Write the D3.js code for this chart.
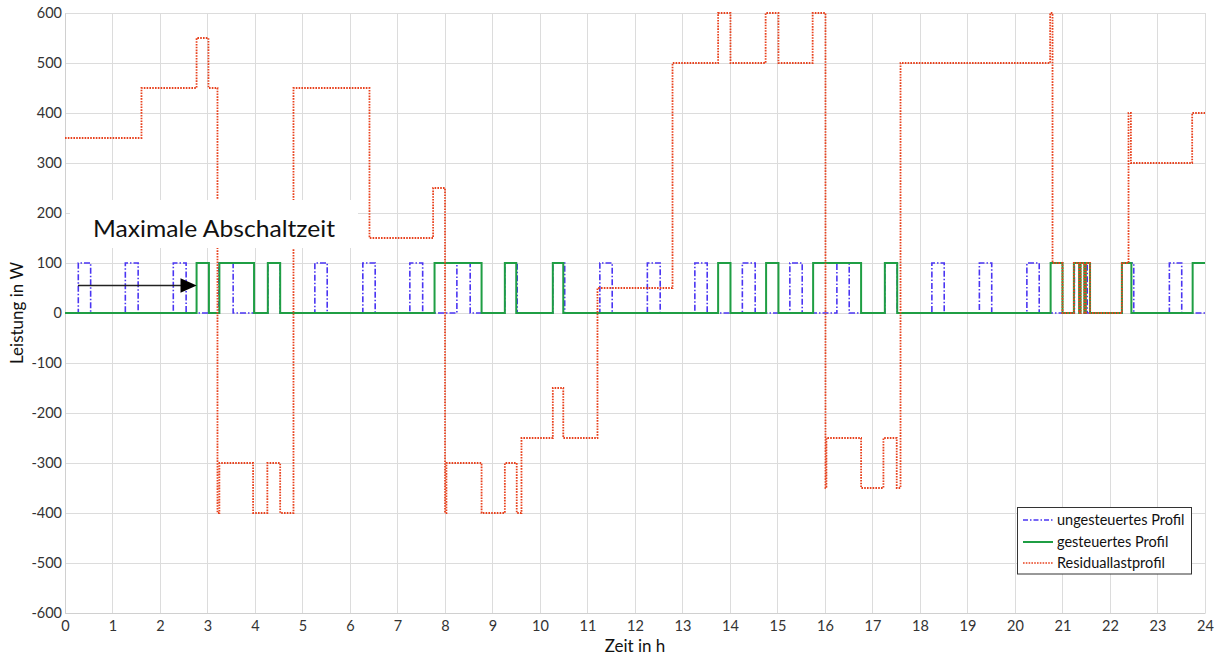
<!DOCTYPE html>
<html>
<head>
<meta charset="utf-8">
<script src="https://cdn.jsdelivr.net/npm/d3@7"></script>
<style>
  html, body { margin: 0; padding: 0; background: #fff; }
  svg { display: block; font-family: Lato, "Open Sans", sans-serif; }
</style>
</head>
<body>
<svg id="chart" width="1218" height="657"></svg>
<script>
// ---- data ----
const xTicks = [0,1,2,3,4,5,6,7,8,9,10,11,12,13,14,15,16,17,18,19,20,21,22,23,24];
const yTicks = [-600,-500,-400,-300,-200,-100,0,100,200,300,400,500,600];

// ungesteuertes Profil: on-pulses of 100 W [start, end] in h
const ungesteuertPulses = [
  [0.28,0.54],[1.27,1.54],[2.28,2.55],[3.24,3.54],[4.27,4.53],[5.26,5.52],
  [6.27,6.53],[7.26,7.53],[8.25,8.53],[9.26,9.52],[10.27,10.52],[11.26,11.52],
  [12.26,12.53],[13.26,13.52],[14.26,14.53],[15.26,15.52],[16.25,16.51],[17.26,17.52],
  [18.25,18.51],[19.25,19.51],[20.25,20.51],[21.25,21.52],[22.25,22.5],[23.25,23.51]
];
const ungesteuertLevel = 100;

// gesteuertes Profil: on-pulses of 100 W [start, end] in h
const gesteuertPulses = [
  [2.77,3.03],[3.25,3.98],[4.27,4.53],[7.78,8.77],[9.26,9.50],[10.27,10.49],
  [13.75,14.01],[14.76,15.02],[15.75,16.76],[17.26,17.52],[20.75,21.0],
  [21.24,21.35],[21.38,21.46],[21.49,21.58],[22.25,22.45],[23.74,24]
];
const gesteuertLevel = 100;

// Residuallastprofil: step breakpoints [time h, value W]
const residualTimes = [0,1.61,2.77,3.02,3.21,3.25,3.96,4.26,4.53,4.81,6.41,7.75,8.0,8.03,8.77,9.26,9.51,9.61,
  10.27,10.49,11.21,12.79,13.75,14.01,14.75,15.02,15.74,16.01,16.03,16.76,17.23,17.51,17.59,
  20.74,20.79,21.0,21.24,21.35,21.38,21.46,21.49,21.58,22.25,22.39,22.44,23.73,24];
const residualValues = [350,450,550,450,-400,-300,-400,-300,-400,450,150,250,-400,-300,-400,-300,-400,-250,
  -150,-250,50,500,600,500,600,500,600,-350,-250,-350,-250,-350,500,
  600,100,0,100,0,100,0,100,0,100,400,300,400,400];

const seriesNames = ["ungesteuertes Profil","gesteuertes Profil","Residuallastprofil"];
const xLabel = "Zeit in h";
const yLabel = "Leistung in W";
const annotationText = "Maximale Abschaltzeit";

// ---- helpers ----
function pulsesToSteps(pulses, level) {
  const pts = [[0,0]];
  pulses.forEach(([s,e]) => { pts.push([s,level]); pts.push([e,0]); });
  if (pts[pts.length-1][0] < 24) pts.push([24, pts[pts.length-1][1]]);
  else pts[pts.length-1] = [24, level];
  return pts;
}

const svg = d3.select("#chart");
const x = d3.scaleLinear().domain([0,24]).range([65,1205]);
const y = d3.scaleLinear().domain([-600,600]).range([613,13]);

// grid
const grid = svg.append("g");
grid.selectAll("line.v").data(xTicks).join("line")
  .attr("x1", d => x(d)).attr("x2", d => x(d))
  .attr("y1", y(600)).attr("y2", y(-600))
  .attr("stroke", "#dcdcdc").attr("stroke-width", 1).attr("shape-rendering","crispEdges");
grid.selectAll("line.h").data(yTicks).join("line")
  .attr("x1", x(0)).attr("x2", x(24))
  .attr("y1", d => y(d)).attr("y2", d => y(d))
  .attr("stroke", "#dcdcdc").attr("stroke-width", 1).attr("shape-rendering","crispEdges");

// axes
const fmt = d => String(d);
const xAxis = d3.axisBottom(x).tickValues(xTicks).tickSize(0).tickPadding(8).tickFormat(fmt);
const gx = svg.append("g").attr("transform", `translate(0,${y(-600)})`).call(xAxis);
gx.select(".domain").attr("stroke", "#d0d0d0");
gx.selectAll("text").attr("font-size", 14.5).attr("fill", "#333").attr("font-family","Lato, sans-serif");

const yAxis = d3.axisLeft(y).tickValues(yTicks).tickSize(0).tickPadding(3).tickFormat(fmt);
const gy = svg.append("g").attr("transform", `translate(${x(0)},0)`).call(yAxis);
gy.select(".domain").attr("stroke", "#d0d0d0");
gy.selectAll("text").attr("font-size", 14.5).attr("fill", "#333").attr("font-family","Lato, sans-serif");

// lines
const line = d3.line().x(d => x(d[0])).y(d => y(d[1])).curve(d3.curveStepAfter);
const bluePts = pulsesToSteps(ungesteuertPulses, ungesteuertLevel);
const greenPts = pulsesToSteps(gesteuertPulses, gesteuertLevel);
const redPts = residualTimes.map((t,i) => [t, residualValues[i]]);

const colors = ["#4a35f2", "#1f9e44", "#e8421e"];
const dashes = ["6,2,1.5,2", null, "1.6,1.2"];
const widths = [1.6, 2, 1.8];

svg.append("path").datum(bluePts).attr("d", line).attr("fill","none")
  .attr("stroke", colors[0]).attr("stroke-width", widths[0]).attr("stroke-dasharray", dashes[0]);
svg.append("path").datum(greenPts).attr("d", line).attr("fill","none")
  .attr("stroke", colors[1]).attr("stroke-width", widths[1]);
svg.append("path").datum(redPts).attr("d", line).attr("fill","none")
  .attr("stroke", colors[2]).attr("stroke-width", widths[2]).attr("stroke-dasharray", dashes[2]);

// annotation
svg.append("rect").attr("x", 70).attr("y", 200).attr("width", 288).attr("height", 48).attr("fill", "#fff");
svg.append("text").attr("x", 93).attr("y", 237).attr("font-size", 23).attr("fill","#111")
  .attr("textLength", 242).attr("lengthAdjust","spacingAndGlyphs").text(annotationText);
svg.append("line").attr("x1", 78).attr("x2", 182).attr("y1", 285.5).attr("y2", 285.5)
  .attr("stroke", "#222").attr("stroke-width", 1.5);
svg.append("path").attr("d", "M180.5,278.3 L196.7,285.5 L180.5,292.7 Z").attr("fill", "#000");

// axis titles
svg.append("text").attr("x", x(12)).attr("y", 652).attr("text-anchor","middle")
  .attr("font-size", 17).attr("fill","#111").text(xLabel);
svg.append("text").attr("transform", `translate(23,${y(0)}) rotate(-90)`).attr("text-anchor","middle")
  .attr("font-size", 17).attr("fill","#111").text(yLabel);

// legend
const lg = svg.append("g");
lg.append("rect").attr("x", 1017.5).attr("y", 507.5).attr("width", 174).attr("height", 66.5)
  .attr("fill", "#fff").attr("stroke", "#333").attr("stroke-width", 1);
const rowsY = [520, 542, 563];
seriesNames.forEach((name, i) => {
  lg.append("line").attr("x1", 1023).attr("x2", 1053).attr("y1", rowsY[i]).attr("y2", rowsY[i])
    .attr("stroke", colors[i]).attr("stroke-width", i === 1 ? 2 : 1.6)
    .attr("stroke-dasharray", i === 0 ? "5,2,1.5,2" : (i === 2 ? "1.6,1.2" : null));
  lg.append("text").attr("x", 1057).attr("y", rowsY[i]).attr("dy", "0.35em")
    .attr("font-size", 14.5).attr("fill", "#111").text(name);
});
</script>
</body>
</html>
